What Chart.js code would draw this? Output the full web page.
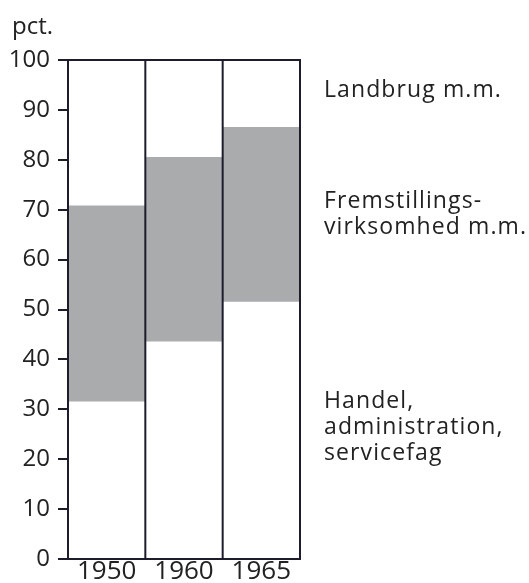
<!DOCTYPE html>
<html>
<head>
<meta charset="utf-8">
<script src="https://cdn.jsdelivr.net/npm/chart.js@4/dist/chart.umd.min.js"></script>
<style>
  html, body { margin: 0; padding: 0; background: #fff; }
  #chart { display: block; }
</style>
</head>
<body>
<canvas id="chart" width="529" height="583"></canvas>
<script>
const years = ["1950", "1960", "1965"];
const handel = [31.5, 43.5, 51.5];
const fremstilling = [39.3, 37.0, 35.0];
const landbrug = [29.2, 19.5, 13.5];
const yTicks = [0, 10, 20, 30, 40, 50, 60, 70, 80, 90, 100];

// text beside the bars, anchored at the baseline of the first line (in pct.)
const sideLabels = [
  { lines: ["Landbrug m.m."], value: 92.6 },
  { lines: ["Fremstillings-", "virksomhed m.m."], value: 70.3 },
  { lines: ["Handel,", "administration,", "servicefag"], value: 30.3 }
];

const ink = "#1c1c2a";
const fontName = "'Open Sans', Lato, sans-serif";

// frame lines between the bars, on top of the bars
const framePlugin = {
  id: "frame",
  afterDatasetsDraw(chart) {
    const c = chart.ctx;
    const area = chart.chartArea;
    const x = chart.scales.x;
    const y = chart.scales.y;
    const edges = [area.left];
    for (let i = 0; i < years.length - 1; i++) {
      edges.push((x.getPixelForValue(i) + x.getPixelForValue(i + 1)) / 2);
    }
    edges.push(area.right);
    const top = y.getPixelForValue(100);
    const bottom = y.getPixelForValue(0);
    c.save();
    c.strokeStyle = ink;
    c.lineWidth = 2;
    c.beginPath();
    edges.forEach(function (e) {
      c.moveTo(e, top - 1);
      c.lineTo(e, bottom + 1);
    });
    c.moveTo(area.left - 1, top);
    c.lineTo(area.right + 1, top);
    c.moveTo(area.left - 1, bottom);
    c.lineTo(area.right + 1, bottom);
    c.stroke();
    c.restore();
  }
};

// labels to the right of the bars + "pct." above the axis
const textPlugin = {
  id: "sideText",
  afterDraw(chart) {
    const c = chart.ctx;
    const area = chart.chartArea;
    const y = chart.scales.y;
    c.save();
    c.fillStyle = "#222";
    c.textBaseline = "alphabetic";
    c.textAlign = "left";
    c.font = "23px " + fontName;
    c.letterSpacing = "1.1px";
    sideLabels.forEach(function (s) {
      const base = y.getPixelForValue(s.value);
      s.lines.forEach(function (t, i) {
        c.fillText(t, area.right + 24, base + i * 26);
      });
    });
    c.letterSpacing = "0px";
    c.font = "24px " + fontName;
    c.fillText("pct.", 12, 34);
    c.restore();
  }
};

new Chart(document.getElementById("chart"), {
  type: "bar",
  data: {
    labels: years,
    datasets: [
      { label: "Handel", data: handel, backgroundColor: "#ffffff" },
      { label: "Fremstilling", data: fremstilling, backgroundColor: "#aaabad" },
      { label: "Landbrug", data: landbrug, backgroundColor: "#ffffff" }
    ]
  },
  options: {
    responsive: false,
    animation: false,
    layout: { padding: { top: 60, right: 229, bottom: 0, left: 0 } },
    plugins: { legend: { display: false }, tooltip: { enabled: false } },
    datasets: { bar: { barPercentage: 1, categoryPercentage: 1, borderWidth: 0 } },
    scales: {
      x: {
        stacked: true,
        afterFit: function (s) { s.height = 24; },
        grid: { display: false, drawTicks: false },
        border: { display: false },
        ticks: { color: "#222", padding: 0, font: { family: fontName, size: 26, lineHeight: 1 } }
      },
      y: {
        stacked: true,
        min: 0,
        max: 100,
        afterFit: function (s) { s.width = 68; },
        afterBuildTicks: function (s) { s.ticks = yTicks.map(function (v) { return { value: v }; }); },
        grid: {
          drawOnChartArea: false,
          lineWidth: 2,
          tickColor: ink,
          tickLength: 10
        },
        border: { display: false },
        ticks: { color: "#222", padding: 8, font: { family: fontName, size: 24 } }
      }
    }
  },
  plugins: [framePlugin, textPlugin]
});
</script>
</body>
</html>
